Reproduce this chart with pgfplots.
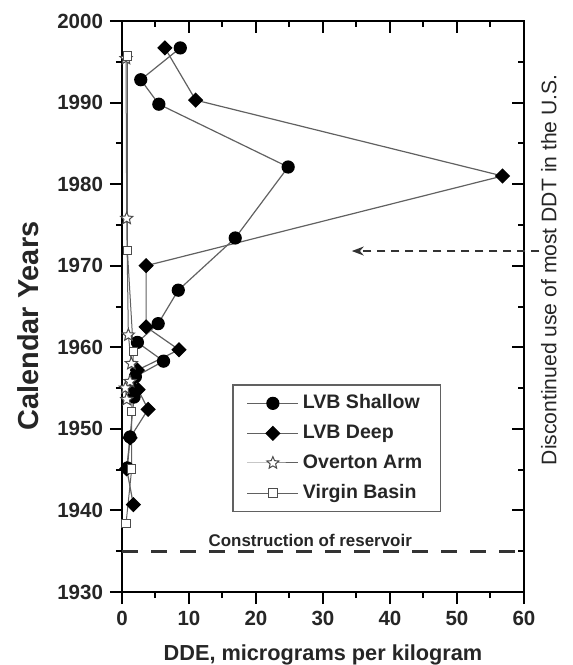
\documentclass[border=0pt]{standalone}
\usepackage{pgfplots}
\pgfplotsset{compat=1.18}
\usepackage{fontspec}
\setmainfont{Liberation Sans}
\usetikzlibrary{arrows.meta}

\definecolor{linegray}{gray}{0.38}
\definecolor{markgray}{gray}{0.30}

% open five-pointed star marker
\pgfdeclareplotmark{ostar}{%
  \pgfpathmoveto{\pgfpointpolar{90}{\pgfplotmarksize}}%
  \pgfpathlineto{\pgfpointpolar{126}{0.45\pgfplotmarksize}}%
  \pgfpathlineto{\pgfpointpolar{162}{\pgfplotmarksize}}%
  \pgfpathlineto{\pgfpointpolar{198}{0.45\pgfplotmarksize}}%
  \pgfpathlineto{\pgfpointpolar{234}{\pgfplotmarksize}}%
  \pgfpathlineto{\pgfpointpolar{270}{0.45\pgfplotmarksize}}%
  \pgfpathlineto{\pgfpointpolar{306}{\pgfplotmarksize}}%
  \pgfpathlineto{\pgfpointpolar{342}{0.45\pgfplotmarksize}}%
  \pgfpathlineto{\pgfpointpolar{18}{\pgfplotmarksize}}%
  \pgfpathlineto{\pgfpointpolar{54}{0.45\pgfplotmarksize}}%
  \pgfpathclose
  \pgfusepathqfillstroke}

\begin{document}
\begin{tikzpicture}
\pgfplotsset{
  ddebox/.style={
    scale only axis,
    width=201bp, height=285.5bp,
    xmin=0, xmax=60, ymin=1930, ymax=2000,
    xtick={0,10,...,60}, ytick={1930,1940,...,2000},
    minor xtick={5,15,...,55}, minor ytick={1935,1945,...,1995},
    major tick length=6bp, minor tick length=3bp,
    axis line style={line width=1bp, black},
    every tick/.style={line width=1bp, black},
  }
}
% top and right ticks point inward
\begin{axis}[ddebox, tick pos=right, tick align=inside,
  xticklabel=\empty, yticklabel=\empty]
\end{axis}
\begin{axis}[ddebox,
  name=main,
  tick pos=left, tick align=outside,
  clip=false,
  /pgf/number format/assume math mode=true,
  /pgf/number format/1000 sep={},
  ticklabel style={font=\fontsize{10.3}{12}\selectfont\bfseries, text=black!85},
  xlabel={DDE, micrograms per kilogram},
  ylabel={Calendar Years},
  xlabel style={at={(axis description cs:0.5,-0.110)}, anchor=center,
    font=\fontsize{10.9}{13}\selectfont\bfseries, text=black!85},
  ylabel style={at={(axis description cs:-0.2326,0.4658)}, anchor=center,
    font=\fontsize{14.5}{17}\selectfont\bfseries, text=black!85},
  legend style={at={(axis description cs:0.2736,0.3643)}, anchor=north west,
    draw=linegray, line width=0.8bp, fill=white,
    font=\fontsize{9.8}{11}\selectfont\bfseries, text=black!85,
    inner xsep=7bp, inner ysep=3bp, row sep=2.6bp,
    column 2/.style={nodes={text width=57bp, align=left}}},
  legend cell align=left,
  legend image code/.code={%
    \draw[mark repeat=2, mark phase=2, #1]
      plot coordinates {(0bp,0bp) (12.75bp,0bp) (25.5bp,0bp)};},
]

% LVB Shallow
\addplot[linegray, line width=0.6bp, mark=*, mark size=3bp,
  mark options={fill=black, draw=black}]
  coordinates {
  (8.7,1996.7) (2.8,1992.8) (5.5,1989.8) (24.8,1982.1) (16.9,1973.4)
  (8.4,1967.0) (5.4,1962.9) (2.3,1960.6) (6.2,1958.3) (2.0,1956.4)
  (1.6,1954.9) (1.8,1953.9) (1.2,1949.0) (0.8,1945.2)
  };
\addlegendentry{LVB Shallow}

% LVB Deep
\addplot[linegray, line width=0.6bp, mark=square*, mark size=2.4bp,
  mark options={fill=black, draw=black, rotate=45}]
  coordinates {
  (6.4,1996.7) (11.0,1990.3) (56.8,1981.0) (3.6,1970.0) (3.6,1962.5)
  (8.5,1959.7) (2.3,1957.2) (2.4,1954.8) (3.9,1952.4) (1.2,1948.9)
  (0.7,1945.1) (1.7,1940.7)
  };
\addlegendentry{LVB Deep}

% Overton Arm
\addplot[linegray, line width=0.5bp, mark=ostar, mark size=3.2bp,
  mark options={fill=white, draw=markgray, line width=0.5bp}]
  coordinates {
  (0.6,1995.4) (0.7,1975.8) (0.95,1961.5) (1.4,1958.0) (1.2,1955.8)
  (0.5,1955.0) (0.7,1953.6)
  };
\addlegendentry{Overton Arm}

% Virgin Basin
\addplot[linegray, line width=0.5bp, mark=square*, mark size=2.1bp,
  mark options={fill=white, draw=markgray, line width=0.5bp}]
  coordinates {
  (0.8,1995.7) (0.8,1971.9) (1.7,1959.5) (1.45,1952.1) (1.45,1945.1)
  (0.6,1938.4)
  };
\addlegendentry{Virgin Basin}

% reservoir construction
\draw[black!80, line width=1.5bp, dash pattern=on 8bp off 6.5bp]
  (axis cs:0,1935) -- (axis cs:60,1935);
\node[anchor=base, font=\fontsize{8.5}{10}\selectfont\bfseries, text=black!85]
  at (axis cs:28.1,1935.6) {Construction of reservoir};

% DDT ban
\draw[black!80, line width=0.8bp, dash pattern=on 4bp off 3bp,
  -{Stealth[length=6bp, width=4.5bp]}]
  (axis cs:62.3,1971.8) -- (axis cs:34.3,1971.8);
\node[rotate=90, anchor=center, font=\fontsize{10.6}{12}\selectfont, text=black!85]
  at (axis cs:63.7,1969.5) {Discontinued use of most DDT in the U.S.};
\end{axis}

\pgfresetboundingbox
\path (main.south west) ++(-61bp,-36.5bp) rectangle ++(286.5bp,332.5bp);
\end{tikzpicture}
\end{document}
